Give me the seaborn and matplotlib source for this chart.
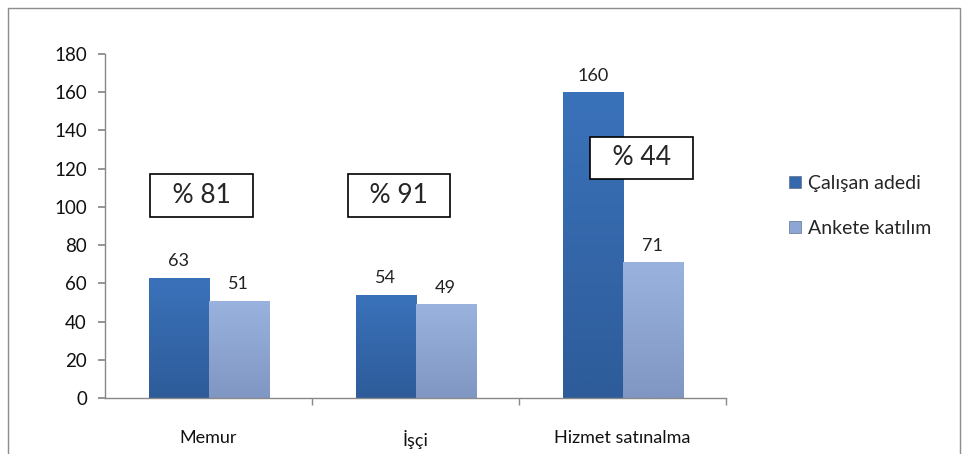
import matplotlib
matplotlib.use("Agg")
import matplotlib.pyplot as plt
import seaborn as sns
import pandas as pd
import numpy as np
from matplotlib.patches import Rectangle
from matplotlib.colors import LinearSegmentedColormap

categories = ["Memur", "İşçi", "Hizmet satınalma"]
calisan = [63, 54, 160]
anket = [51, 49, 71]
series_names = ["Çalışan adedi", "Ankete katılım"]
percent_labels = ["% 81", "% 91", "% 44"]
percent_y = [106, 106, 125.6]

sns.set_theme(style="white")
plt.rcParams['font.family'] = ['Lato', 'DejaVu Sans']

df = pd.DataFrame({
    "cat": categories * 2,
    "val": calisan + anket,
    "series": [series_names[0]] * 3 + [series_names[1]] * 3,
})

fig = plt.figure(figsize=(9.67, 4.54), dpi=100)
ax = fig.add_axes([0.1086, 0.1233, 0.751 - 0.1086, 0.881 - 0.1233])

palette = {series_names[0]: "#3569AE", series_names[1]: "#8EA6D4"}
sns.barplot(data=df, x="cat", y="val", hue="series", palette=palette,
            width=0.58, ax=ax, saturation=1, edgecolor="#5d6f88", linewidth=0.5)

grads = [("#2e5c9a", "#3a72ba"), ("#8097c3", "#9ab2de")]
grad = np.linspace(0, 1, 64).reshape(-1, 1)
for cont, (c0, c1) in zip(ax.containers, grads):
    cmap = LinearSegmentedColormap.from_list("g", [c0, c1])
    for p in cont.patches:
        x0, y0 = p.get_x(), p.get_y()
        w, h = p.get_width(), p.get_height()
        im = ax.imshow(grad, cmap=cmap, aspect="auto", origin="lower",
                       extent=(x0, x0 + w, y0, y0 + h), zorder=p.get_zorder() + 0.1,
                       interpolation="bilinear")
        im.set_clip_path(p)

for cont in ax.containers:
    ax.bar_label(cont, padding=6, fontsize=13, color="#222222")

x_offsets = [-0.035, -0.08, 0.09]
for i, (lab, yv) in enumerate(zip(percent_labels, percent_y)):
    ax.text(i + x_offsets[i], yv, "  " + lab + "  ", ha="center", va="center",
            fontsize=19,
            bbox=dict(boxstyle="square,pad=0.33", fc="white", ec="black", lw=1.2),
            zorder=5)

ax.set_ylim(0, 180)
ax.set_yticks(range(0, 181, 20))
ax.set_xlim(-0.5, 2.5)
ax.set_xlabel("")
ax.set_ylabel("")
for s in ["top", "right"]:
    ax.spines[s].set_visible(False)
for s in ["left", "bottom"]:
    ax.spines[s].set_color("#888888")
    ax.spines[s].set_linewidth(1)
ax.tick_params(axis="y", which="major", left=True, length=5, color="#888888",
               labelsize=13.5, labelcolor="#111111", pad=8)
ax.tick_params(axis="x", which="major", bottom=False, labelsize=13,
               labelcolor="#111111", pad=17)
ax.set_xticks([0.5, 1.5, 2.5], minor=True)
ax.tick_params(axis="x", which="minor", bottom=True, length=5, color="#888888")

leg = ax.legend(loc="center left", bbox_to_anchor=(1.073, 0.558), frameon=False,
                fontsize=14, handlelength=0.6, handleheight=0.6,
                handletextpad=0.35, labelspacing=1.45)

fig.patches.append(Rectangle((8 / 967, -0.05), (960 - 8) / 967, 1 - 8 / 454 + 0.05,
                             transform=fig.transFigure, fill=False,
                             ec="#8c8c8c", lw=1))

fig.savefig("out.png", dpi=100)
